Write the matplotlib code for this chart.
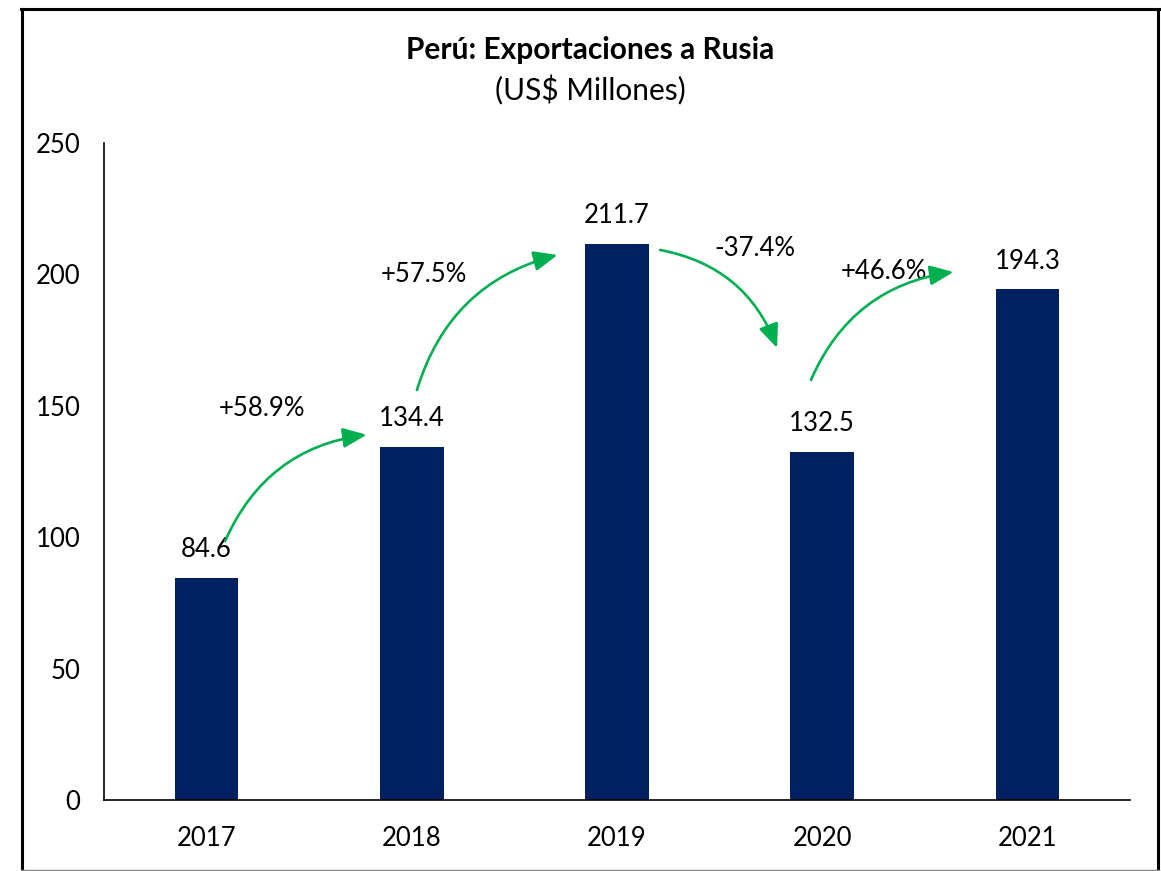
import matplotlib
matplotlib.use("Agg")
import matplotlib.pyplot as plt
from matplotlib.lines import Line2D

years = ["2017", "2018", "2019", "2020", "2021"]
values = [84.6, 134.4, 211.7, 132.5, 194.3]
growth_labels = ["+58.9%", "+57.5%", "-37.4%", "+46.6%"]
y_ticks = [0, 50, 100, 150, 200, 250]

plt.rcParams['font.family'] = ['Lato', 'DejaVu Sans']

W, H = 1161, 871
fig = plt.figure(figsize=(W / 100, H / 100), dpi=100)
ax = fig.add_axes([104 / W, 1 - 800 / H, (1130 - 104) / W, (800 - 143) / H])

x = list(range(len(years)))
bars = ax.bar(x, values, width=0.31, color="#002060", zorder=2)

ax.set_xlim(-0.5, len(years) - 0.5)
ax.set_ylim(0, 250)
ax.set_yticks(y_ticks)
ax.set_xticks(x)
ax.set_xticklabels(years)
ax.tick_params(axis="both", length=0, labelsize=18.5, colors="black")
ax.tick_params(axis="y", pad=17)
ax.tick_params(axis="x", pad=19)
for s in ["top", "right"]:
    ax.spines[s].set_visible(False)
for s in ["left", "bottom"]:
    ax.spines[s].set_linewidth(1.2)
    ax.spines[s].set_color("black")

# value labels
for xi, v in zip(x, values):
    ax.annotate(f"{v:.1f}", (xi, v), xytext=(0, 28 * 0.72), textcoords="offset points",
                ha="center", va="center", fontsize=18.5)

# growth labels and arrows (positions are layout, in data coords)
label_pos = [(0.27, 149), (1.06, 200), (2.67, 210), (3.30, 201)]
arrows = [
    ((0.09, 98.5), (0.78, 139.0)),
    ((1.025, 156.0), (1.71, 207.4)),
    ((2.21, 209.3), (2.78, 172.0)),
    ((2.945, 159.8), (3.64, 200.9)),
]
green = "#00B050"
for lab, (lx, ly) in zip(growth_labels, label_pos):
    ax.text(lx, ly, lab, ha="center", va="center", fontsize=18.5)
for (sx, sy), (ex, ey) in arrows:
    ax.annotate("", xy=(ex, ey), xytext=(sx, sy),
                arrowprops=dict(arrowstyle="-|>,head_length=0.9,head_width=0.38",
                                connectionstyle="arc3,rad=-0.28",
                                color=green, lw=1.9, mutation_scale=16,
                                shrinkA=0, shrinkB=0))

# titles
fig.text(590 / W, 1 - 50 / H, "Perú: Exportaciones a Rusia", ha="center", va="center",
         fontsize=21.5, fontweight="bold")
fig.text(590 / W, 1 - 90 / H, "(US$ Millones)", ha="center", va="center", fontsize=21.5)

# outer frame
lw = 2.2
fig.add_artist(Line2D([21.5 / W, 21.5 / W], [0, 1 - 9.5 / H], color="black", lw=lw, transform=fig.transFigure))
fig.add_artist(Line2D([1157.5 / W, 1157.5 / W], [0, 1 - 9.5 / H], color="black", lw=lw, transform=fig.transFigure))
fig.add_artist(Line2D([20.5 / W, 1158.5 / W], [1 - 9.5 / H, 1 - 9.5 / H], color="black", lw=lw, transform=fig.transFigure))
fig.add_artist(Line2D([20.5 / W, 1158.5 / W], [1 - 869.5 / H, 1 - 869.5 / H], color="#888888", lw=1.0, transform=fig.transFigure))

fig.savefig("out.png", dpi=100)
